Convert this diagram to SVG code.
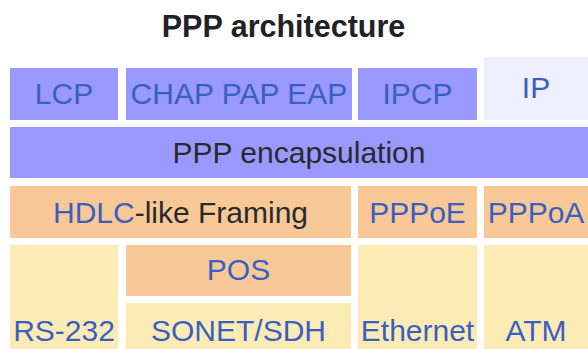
<svg xmlns="http://www.w3.org/2000/svg" width="588" height="349" viewBox="0 0 588 349">
<style>
text{font-family:"Liberation Sans",Arial,sans-serif;font-size:30px;text-anchor:middle}
.t{font-weight:bold;fill:#222226;font-size:30.5px}
.l{fill:#3a5fc0}
.d{fill:#2a2a2e}
.b{fill:#9999ff}
.o{fill:#f8c996}
.y{fill:#fdebb6}
.w{fill:#eeeeff}
</style>
<rect width="588" height="349" fill="#ffffff"/>
<text class="t" x="283.5" y="37">PPP architecture</text>
<g id="lcp"><rect class="b" x="10" y="68" width="108" height="52"/><text class="l" x="64" y="104">LCP</text></g>
<g id="auth"><rect class="b" x="126" y="68" width="226" height="52"/><text class="l" x="239" y="104">CHAP PAP EAP</text></g>
<g id="ipcp"><rect class="b" x="358" y="68" width="119" height="52"/><text class="l" x="417.5" y="104">IPCP</text></g>
<g id="ip"><rect class="w" x="484" y="57" width="104" height="63"/><text class="l" x="536" y="97.5">IP</text></g>
<g id="encap"><rect class="b" x="10" y="127" width="578" height="51"/><text class="d" x="299" y="163">PPP encapsulation</text></g>
<g id="hdlc"><rect class="o" x="10" y="186" width="341" height="52"/><text x="180.5" y="222.7"><tspan class="l">HDLC</tspan><tspan class="d">-like Framing</tspan></text></g>
<g id="pppoe"><rect class="o" x="358" y="186" width="119" height="52"/><text class="l" x="417.5" y="222.7">PPPoE</text></g>
<g id="pppoa"><rect class="o" x="484" y="186" width="104" height="52"/><text class="l" x="536" y="222.7">PPPoA</text></g>
<g id="rs232"><rect class="y" x="10" y="245" width="108" height="104"/><text class="l" x="64" y="341">RS-232</text></g>
<g id="pos"><rect class="o" x="126" y="245" width="225" height="51"/><text class="l" x="238.5" y="280">POS</text></g>
<g id="sonet"><rect class="y" x="126" y="303" width="225" height="46"/><text class="l" x="238.5" y="341">SONET/SDH</text></g>
<g id="ethernet"><rect class="y" x="358" y="245" width="119" height="104"/><text class="l" x="417.5" y="341">Ethernet</text></g>
<g id="atm"><rect class="y" x="484" y="245" width="104" height="104"/><text class="l" x="536" y="341">ATM</text></g>
</svg>
